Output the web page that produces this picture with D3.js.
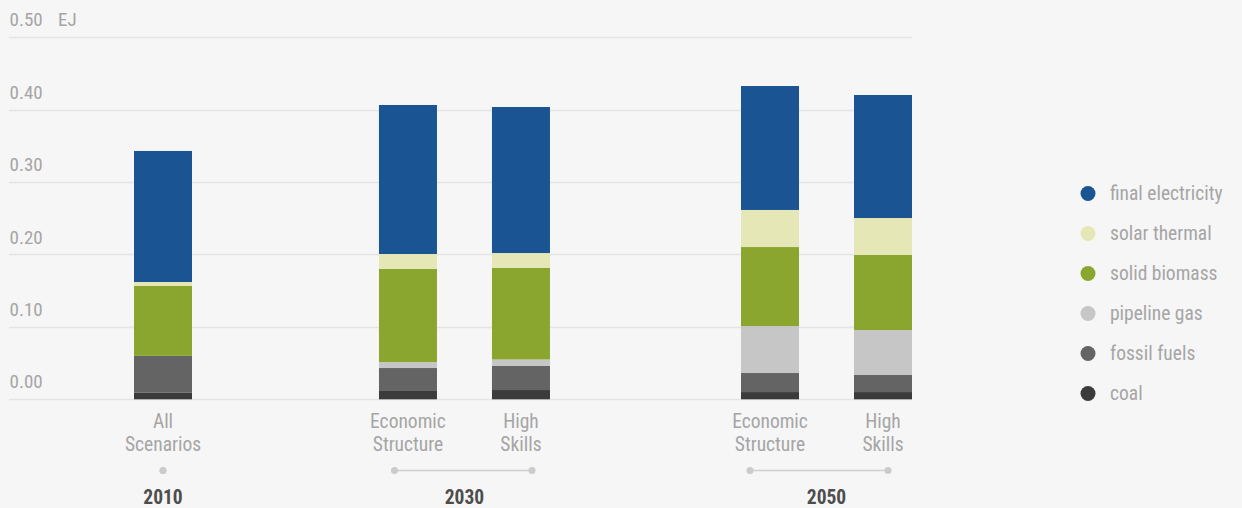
<!DOCTYPE html>
<html><head><meta charset="utf-8">
<script src="https://cdn.jsdelivr.net/npm/d3@7"></script>
<style>
html,body{margin:0;padding:0;background:#f6f6f6;}
svg{display:block;font-family:"Liberation Sans Narrow","Roboto Condensed","Arial Narrow",sans-serif;}
</style></head><body>
<svg id="c" width="1242" height="508"></svg>
<script>
// ---- data ----
const years = ["2010", "2030", "2050"];
const scenarioLabels = [["All", "Scenarios"], ["Economic", "Structure"], ["High", "Skills"], ["Economic", "Structure"], ["High", "Skills"]];
const barYear = ["2010", "2030", "2030", "2050", "2050"];
const seriesNames = ["coal", "fossil fuels", "pipeline gas", "solid biomass", "solar thermal", "final electricity"];
const coal        = [0.009, 0.0115, 0.0128, 0.010, 0.010];
const fossilFuels = [0.051, 0.0317, 0.0332, 0.0263, 0.0236];
const pipelineGas = [0.000, 0.0083, 0.0090, 0.0649, 0.0621];
const solidBiomass= [0.0965, 0.1285, 0.1265, 0.1091, 0.1036];
const solarThermal= [0.0055, 0.0207, 0.0205, 0.0512, 0.0511];
const finalElectricity = [0.181, 0.2058, 0.2017, 0.1712, 0.1699];
const yTicks = [0, 0.1, 0.2, 0.3, 0.4, 0.5];
const unit = "EJ";
const colors = ["#3b3b3b", "#646464", "#c6c6c6", "#8ba62f", "#e5e7b7", "#1a5493"];

// ---- build ----
const seriesVals = [coal, fossilFuels, pipelineGas, solidBiomass, solarThermal, finalElectricity];
const rows = barYear.map((y, i) => {
  const r = {i, year: y};
  seriesNames.forEach((s, k) => r[s] = seriesVals[k][i]);
  return r;
});
const stack = d3.stack().keys(seriesNames)(rows);

const svg = d3.select("#c");
const groupOffset = [0, 1.168, 2.372];
const slot = rows.map(r => r.i + groupOffset[years.indexOf(r.year)]);
const x = d3.scaleLinear().domain([0, 4 + groupOffset[2]]).range([163, 883]);
const barW = 58;
const y = d3.scaleLinear().domain([0, 0.5]).range([399.3, 37.3]);
const color = d3.scaleOrdinal().domain(seriesNames).range(colors);
const txt = "#a5a5a5";

// grid
const grid = svg.append("g");
grid.selectAll("line").data(yTicks).join("line")
  .attr("x1", 9).attr("x2", 912)
  .attr("y1", d => Math.round(y(d)) + 0.5).attr("y2", d => Math.round(y(d)) + 0.5)
  .attr("stroke", "#e4e4e4").attr("stroke-width", 1.5);
grid.selectAll("text").data(yTicks).join("text")
  .attr("x", 9.5).attr("y", d => y(d) - 11)
  .attr("fill", txt).attr("font-size", 19)
  .text(d => d3.format(".2f")(d));
svg.append("text").attr("x", 58).attr("y", y(0.5) - 11)
  .attr("fill", txt).attr("font-size", 19).text(unit);

// bars
svg.append("g").selectAll("g").data(stack).join("g")
  .attr("fill", d => color(d.key))
  .selectAll("rect").data(d => d).join("rect")
  .attr("x", (d, i) => x(slot[i]) - barW / 2)
  .attr("width", barW)
  .attr("y", d => y(d[1]))
  .attr("height", d => Math.max(0, y(d[0]) - y(d[1])));

// category labels
const cat = svg.append("g");
scenarioLabels.forEach((lines, i) => {
  const t = cat.append("text").attr("text-anchor", "middle")
    .attr("fill", txt).attr("font-size", 19.5);
  lines.forEach((l, j) => t.append("tspan").attr("x", x(slot[i])).attr("y", 428 + j * 22.5).text(l));
});

// year brackets
const brackets = [
  {year: "2010", a: 163, b: 163},
  {year: "2030", a: 394.5, b: 532},
  {year: "2050", a: 750, b: 888}
];
const br = svg.append("g");
years.forEach((yr, k) => {
  const idx = barYear.map((v, i) => v === yr ? i : -1).filter(i => i >= 0);
  const cx = d3.mean(idx, i => x(slot[i]));
  const bk = brackets[k];
  if (bk.a !== bk.b) {
    br.append("line").attr("x1", bk.a).attr("x2", bk.b).attr("y1", 470.5).attr("y2", 470.5)
      .attr("stroke", "#cfcfcf").attr("stroke-width", 1.5);
  }
  [bk.a, bk.b].forEach(px => br.append("circle").attr("cx", px).attr("cy", 470.5).attr("r", 3.5).attr("fill", "#cbcbcb"));
  br.append("text").attr("x", idx.length > 1 ? cx : bk.a).attr("y", 504).attr("text-anchor", "middle")
    .attr("fill", "#4d4d4d").attr("font-size", 19.5).attr("font-weight", "bold").text(yr);
});

// legend
const legendOrder = seriesNames.slice().reverse();
const lg = svg.append("g").selectAll("g").data(legendOrder).join("g")
  .attr("transform", (d, i) => `translate(1088,${193.5 + i * 40})`);
lg.append("circle").attr("r", 7.5).attr("fill", d => color(d));
lg.append("text").attr("x", 22).attr("y", 6.5).attr("fill", txt).attr("font-size", 19.5).text(d => d);
</script>
</body></html>
